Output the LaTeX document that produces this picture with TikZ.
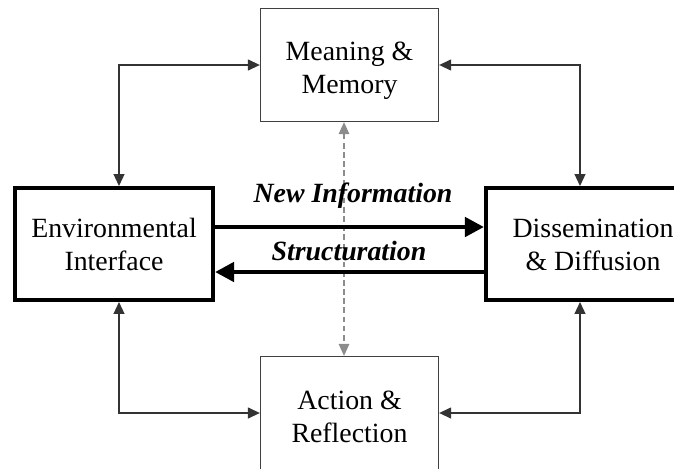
\documentclass[tikz,border=0pt]{standalone}
\usepackage{fontspec}
\setmainfont{Liberation Serif}
\usetikzlibrary{arrows.meta,positioning,calc}

% strut that pushes the first line of a box down a little
\newcommand{\topstrut}[1]{\rule{0pt}{#1}}

\begin{document}
\begin{tikzpicture}[x=0.025cm, y=-0.025cm, font=\fontsize{19.8}{23.5}\selectfont]
    % box and arrow styles
    \tikzset{
      thinbox/.style={draw=black!75, line width=0.9pt, align=center,
                      minimum width=4.45cm, minimum height=2.825cm},
      thickbox/.style={draw=black, line width=2.85pt, align=center,
                       minimum height=2.8cm},
      link/.style={draw=black!80, line width=0.9pt,
                   {Triangle[length=8.5pt,width=7.8pt]}-{Triangle[length=8.5pt,width=7.8pt]}},
      flow/.style={draw=black, line width=3.2pt,
                   -{Triangle[length=13.5pt,width=13.5pt]}},
      hint/.style={draw=black!45, line width=0.8pt, dash pattern=on 4pt off 2.5pt,
                   {Triangle[length=8.5pt,width=7.5pt]}-{Triangle[length=8.5pt,width=7.5pt]}},
      lbl/.style={font=\fontsize{19.8}{23.5}\selectfont\bfseries\itshape}
    }

    \clip (0,0) rectangle (674,468);

    % the four boxes
    \node[thinbox] (mem) at (349.5,65) {\topstrut{22pt}Meaning \&\\Memory};
    \node[thinbox] (act) at (349.5,413) {\topstrut{18.5pt}Action \&\\Reflection};
    \node[thickbox, minimum width=4.95cm] (env) at (114,244) {\topstrut{15pt}Environmental\\Interface};
    \node[thickbox, minimum width=5.35cm] (diss) at (593,244) {\topstrut{15pt}Dissemination\\\& Diffusion};

    % columns and rows the connectors run along
    \coordinate (lft) at (119,0);
    \coordinate (rgt) at (580,0);
    \coordinate (mid) at (344,0);
    \coordinate (up) at (0,227);
    \coordinate (dn) at (0,272);

    % corner links
    \draw[link] (env.north -| lft) |- (mem.west);
    \draw[link] (diss.north -| rgt) |- (mem.east);
    \draw[link] (env.south -| lft) |- (act.west);
    \draw[link] (diss.south -| rgt) |- (act.east);

    % dashed link between top and bottom
    \draw[hint] (mem.south -| mid) -- (act.north -| mid);

    % main flows
    \draw[flow] (env.east |- up) -- (diss.west |- up);
    \draw[flow] (diss.west |- dn) -- (env.east |- dn);
    \node[lbl] (newinfo) at (353,196) {New Information};
    \node[lbl] (struct) at (349,251) {Structuration};
\end{tikzpicture}
\end{document}
